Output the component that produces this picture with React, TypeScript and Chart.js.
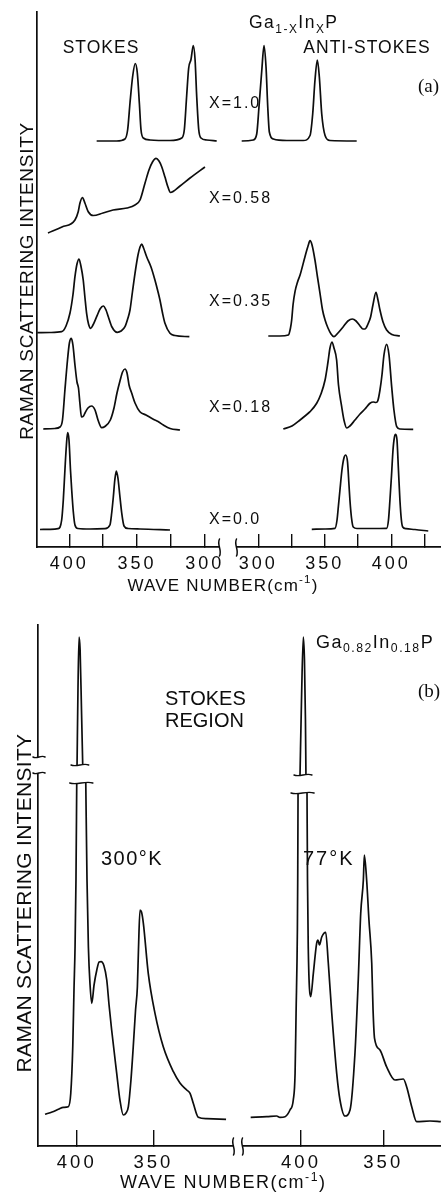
import React, { useEffect, useRef } from "react";
import { Chart, registerables } from "chart.js";

Chart.register(...registerables);

const INK = "#0d0d0d";
const SANS = '"Liberation Sans", Arial, sans-serif';
const SERIF = '"Liberation Serif", "DejaVu Serif", serif';

// ================= Panel (a): Ga(1-x)In(x)P, Stokes (left) / anti-Stokes (right) =================
const A_LABELS = ["X=1.0", "X=0.58", "X=0.35", "X=0.18", "X=0.0"];
const A_OFFSETS = [406, 314, 214, 118, 17.5];

const A_X10_STOKES_WN = [379.8, 365.0, 358.9, 356.9, 355.2, 353.2, 351.3, 349.8, 348.3, 347.1, 345.4, 340.4, 325.7, 317.0, 315.1, 313.4, 311.9, 310.2, 308.5, 307.2, 306.0, 304.5, 302.8, 298.6, 291.2];
const A_X10_STOKES_I = [0, 0, 2, 11.5, 38, 65, 77.5, 68, 38, 11.5, 3, 1, 0.5, 3, 11.5, 45, 73, 81.5, 95.5, 81.5, 45, 11.5, 3, 1, 0];
const A_X10_ANTI_WN = [287.5, 296.2, 298.8, 300.5, 302.6, 304.3, 305.8, 307.1, 308.3, 311.3, 321.4, 333.8, 338.9, 340.9, 342.6, 344.4, 345.9, 347.7, 350.2, 353.9, 374.0];
const A_X10_ANTI_I = [0, 1, 7, 34, 70.5, 95.5, 74, 34, 9, 2, 0.5, 0.5, 5.5, 27, 60.5, 81, 64, 27, 5.5, 0.5, 0];

const A_X058_STOKES_WN = [415.7, 405.4, 395.8, 393.4, 392.1, 390.3, 388.4, 386.0, 382.3, 375.1, 367.7, 357.4, 351.5, 347.8, 344.1, 341.2, 338.6, 336.0, 333.8, 331.8, 329.4, 327.2, 325.3, 318.3, 310.9, 299.9];
const A_X058_STOKES_I = [0, 6, 13, 21.3, 30, 35.5, 29.7, 21.3, 17.5, 20, 23, 25, 28, 33, 50, 63, 71, 74.7, 72, 66.3, 56, 46, 40.5, 47, 55, 66];

const A_X035_STOKES_WN = [423.6, 414.2, 405.6, 402.4, 399.5, 397.3, 395.8, 394.3, 392.8, 391.4, 389.7, 388.4, 387.2, 385.8, 384.2, 382.5, 379.8, 377.3, 374.9, 372.9, 371.2, 368.5, 364.6, 361.8, 358.9, 356.7, 355.2, 353.4, 351.5, 349.3, 347.8, 346.6, 345.2, 342.9, 339.7, 336.8, 334.5, 333.1, 331.2, 329.4, 325.7, 322.0, 311.4];
const A_X035_STOKES_I = [0.3, 0.5, 1.3, 7, 19.7, 38, 56.3, 69, 74, 67, 53, 35, 19.7, 9, 4.7, 8, 16.3, 24, 27, 23, 16.3, 6, 0.7, 2, 6.3, 15, 23, 41, 59.7, 78, 86, 89, 85, 76.3, 66, 53, 41, 33, 20, 9.7, -0.3, -2.5, -3.7];
const A_X035_ANTI_WN = [307.5, 316.3, 322.6, 324.2, 325.1, 326.1, 327.6, 329.5, 331.4, 335.1, 337.4, 338.9, 340.4, 342.6, 344.5, 346.4, 348.3, 350.2, 352.4, 354.7, 356.9, 359.9, 363.9, 367.4, 370.7, 373.5, 376.5, 378.7, 380.2, 382.5, 384.5, 386.2, 388.5, 390.0, 391.5, 393.8, 396.5, 400.5, 406.5];
const A_X035_ANTI_I = [-3, -3, -2, 5, 13, 28, 41.3, 51, 58, 76.3, 87, 92.3, 88, 73, 56, 39.7, 23, 13, 5, -1, -3.7, 0, 6.3, 12, 14, 12, 7, 4, 4, 9, 16.3, 28, 40.7, 33, 23, 11, 3, -1.5, -3];

const A_X018_STOKES_WN = [419.2, 410.6, 406.9, 405.0, 403.2, 401.3, 399.9, 398.5, 397.3, 395.8, 394.3, 393.2, 392.1, 391.0, 389.5, 388.4, 386.2, 383.5, 381.0, 378.8, 376.1, 373.7, 369.7, 367.0, 364.8, 362.6, 360.7, 358.9, 357.4, 355.9, 353.9, 351.5, 347.9, 343.4, 338.0, 334.5, 330.6, 325.6, 318.3];
const A_X018_STOKES_I = [0, 0.5, 2, 9, 39, 69, 86, 90.7, 84, 64, 47, 41, 25, 12, 13, 16, 21, 23, 19, 9, 1.3, 2.5, 9, 21, 36, 48, 57, 60, 56, 44, 35.7, 26, 17.3, 14, 9.7, 7.5, 4, 0.5, -1];
const A_X018_ANTI_WN = [318.8, 325.3, 331.4, 335.1, 338.9, 343.9, 347.1, 350.2, 352.4, 353.9, 355.4, 356.9, 358.9, 360.3, 362.7, 364.4, 366.5, 368.9, 372.7, 376.5, 380.2, 384.0, 386.5, 388.5, 389.8, 391.5, 393.0, 394.5, 396.5, 398.3, 400.3, 402.0, 404.1, 406.5, 416.5];
const A_X018_ANTI_I = [0, 3, 9, 13, 17.3, 25.7, 35, 49, 67, 81, 87, 81, 69, 44, 22.3, 9, 1, 3, 9, 15, 20, 25.7, 27, 26.5, 28, 39, 54, 74, 84.7, 74, 42.3, 19, 2.3, 0, -0.3];

const A_X00_STOKES_WN = [421.6, 414.2, 408.3, 405.6, 404.4, 403.2, 402.1, 401.2, 400.2, 399.1, 398.2, 397.0, 395.8, 393.6, 384.7, 373.7, 370.0, 368.7, 367.5, 366.4, 365.3, 364.1, 362.6, 361.3, 359.6, 356.7, 347.8, 325.7];
const A_X00_STOKES_I = [0, 0.2, 0.8, 9.5, 29.5, 59.5, 84.5, 96.8, 89.5, 59.5, 39.5, 17.5, 4.5, 1, 0.5, 0.8, 4.5, 16.5, 32.5, 49.5, 58.5, 51.5, 32.5, 16.5, 3.5, 1, 0.5, -0.5];
const A_X00_ANTI_WN = [340.2, 350.2, 357.7, 359.2, 360.2, 361.4, 362.9, 364.4, 365.7, 367.1, 368.2, 368.9, 370.1, 371.4, 374.2, 384.0, 396.5, 397.9, 399.0, 400.2, 401.3, 402.4, 403.3, 404.3, 405.4, 406.5, 407.6, 408.6, 411.1, 417.8, 427.8];
const A_X00_ANTI_I = [0.2, 0.5, 1.2, 9.5, 22.8, 39.5, 59.5, 71.5, 74.5, 67.5, 44.5, 29.5, 11.5, 2.5, 1, 1, 1.2, 9.5, 29.5, 54.5, 79.5, 92.5, 95.2, 89.5, 59.5, 29.5, 9.5, 2.5, 0.8, 0, -1.5];

const A_TICKS_STOKES = [400, 375, 350, 325, 300];
const A_TICKS_ANTI = [300, 325, 350, 375, 400, 425];
const A_RANGE_STOKES = [282.9, 423.8];
const A_RANGE_ANTI = [277.2, 437.4];
const A_Y_MAX = 535;

// ================= Panel (b): Ga0.82In0.18P, Stokes region, 300 K (left) / 77 K (right) =================
// null marks the broken (off-scale) part of the strongest peak
const B_300K_WN = [420.7, 416.1, 412.0, 408.7, 405.5, 403.9, 402.6, 401.8, 401.1, 400.5, 400.0, null, 399.8, 399.2, 398.5, 397.8, 396.9, 396.1, null, 394.1, 393.3, 392.4, 391.3, 390.2, 388.7, 386.9, 385.4, 384.1, 382.2, 380.4, 378.9, 377.2, 373.9, 371.8, 369.6, 367.8, 366.3, 364.6, 363.1, 361.6, 360.4, 359.7, 358.7, 357.7, 356.5, 353.3, 348.9, 343.5, 336.9, 332.6, 328.2, 326.0, 323.9, 320.6, 315.1, 302.5];
const B_300K_I = [31.7, 34, 36.7, 38.7, 39.3, 52.7, 99.3, 156, 199.3, 266, 363, null, 381, 456, 509, 496, 436, 381, null, 363, 266, 199.3, 161, 142.7, 161, 176, 184, 184.3, 180, 166, 141, 116, 72.7, 46, 31, 33, 39.3, 66, 99.3, 136, 159.3, 196, 236, 234, 222.7, 172.7, 132.7, 99.3, 74.3, 63, 56, 52.7, 42.7, 28.7, 27.3, 26.7];
const B_77K_WN = [430.6, 420.8, 414.8, 412.8, 409.7, 406.7, 404.7, 403.6, 403.0, 402.2, 402.0, 401.8, null, 400.6, 399.7, 398.6, 397.9, 397.3, 397.0, null, 396.35, 396.05, 395.6, 394.1, 392.5, 390.5, 389.7, 388.8, 387.4, 385.0, 383.4, 381.3, 378.3, 376.3, 373.3, 370.2, 367.2, 365.2, 363.7, 362.1, 361.5, 360.1, 358.7, 357.0, 356.2, 355.3, 352.0, 348.0, 342.9, 337.8, 335.8, 332.7, 329.7, 321.6, 315.0];
const B_77K_I = [28.7, 29.3, 30, 28.7, 29.3, 36, 46, 72.7, 132.7, 216, 266, 353, null, 371, 446, 509, 486, 426, 371, null, 353, 266, 199.3, 149.3, 172.7, 202.7, 206, 201, 209, 213.7, 182.7, 132.7, 72.7, 46, 30, 36, 92.7, 166, 232.7, 266, 291, 266, 226, 182.7, 136, 107.7, 96, 79.3, 66, 67, 59.3, 39.3, 24.3, 25, 24.3];

const B_TICKS = [400, 350];
const B_RANGE_300K = [294.7, 425.3];
const B_RANGE_77K = [314.9, 438.3];
const B_Y_MAX = 521;
const B_Y_BREAK = [373, 389];

// ================= helpers =================
type Seg = { t: string; mode?: "sub" | "sup" };
type Note = {
  segs: Seg[];
  x: number;
  y: number;
  size: number;
  align?: "left" | "center";
  spacing?: number;
  family?: string;
  rotate?: boolean;
};

function series(wn: (number | null)[], inten: (number | null)[], offset: number, axis: string) {
  const data = wn.map((w, i) => ({
    x: w === null ? (wn[i - 1] as number) : w,
    y: inten[i] === null ? null : (inten[i] as number) + offset,
  }));
  return {
    data,
    xAxisID: axis,
    yAxisID: "y",
    borderColor: INK,
    borderWidth: 1.7,
    pointRadius: 0,
    fill: false,
    spanGaps: false,
    cubicInterpolationMode: "monotone",
  };
}

function xScale(range: number[], reverse: boolean, ticks: number[], weight: number, tickLen: number, pad: number, size: number, height: number) {
  return {
    type: "linear",
    axis: "x",
    position: "bottom",
    stack: "wavenumber",
    stackWeight: weight,
    min: range[0],
    max: range[1],
    reverse,
    afterBuildTicks: (s: any) => {
      s.ticks = ticks.map((v) => ({ value: v }));
    },
    afterFit: (s: any) => {
      s.height = height;
      s.paddingLeft = 0;
      s.paddingRight = 0;
      s.paddingTop = 0;
      s.paddingBottom = 0;
    },
    border: { display: true, color: INK, width: 1.7 },
    grid: { display: true, drawOnChartArea: false, drawTicks: true, tickLength: tickLen, color: INK, lineWidth: 1.4 },
    ticks: {
      autoSkip: false,
      maxRotation: 0,
      minRotation: 0,
      padding: pad,
      color: INK,
      font: { family: SANS, size },
      callback: (v: number) => (v % 50 === 0 ? String(v) : ""),
    },
  };
}

function yScale(max: number, width: number) {
  return {
    type: "linear",
    position: "left",
    min: 0,
    max,
    afterFit: (s: any) => {
      s.width = width;
      s.paddingTop = 0;
      s.paddingBottom = 0;
      s.paddingLeft = 0;
      s.paddingRight = 0;
    },
    border: { display: true, color: INK, width: 1.7 },
    grid: { display: false },
    ticks: { display: false },
    title: { display: false },
  };
}

function drawNote(ctx: CanvasRenderingContext2D, n: Note) {
  ctx.save();
  ctx.fillStyle = INK;
  ctx.textBaseline = "alphabetic";
  ctx.textAlign = "left";
  (ctx as any).letterSpacing = `${n.spacing ?? 0}px`;
  const fam = n.family ?? SANS;
  const parts = n.segs.map((s) => {
    const size = s.mode ? n.size * 0.68 : n.size;
    ctx.font = `${size}px ${fam}`;
    return { s, size, w: ctx.measureText(s.t).width };
  });
  const total = parts.reduce((a, p) => a + p.w, 0);
  ctx.translate(n.x, n.y);
  if (n.rotate) ctx.rotate(-Math.PI / 2);
  let x = n.align === "center" || n.rotate ? -total / 2 : 0;
  const base = n.size * 0.358;
  for (const p of parts) {
    ctx.font = `${p.size}px ${fam}`;
    const dy = p.s.mode === "sub" ? n.size * 0.25 : p.s.mode === "sup" ? -n.size * 0.42 : 0;
    ctx.fillText(p.s.t, x, base + dy);
    x += p.w;
  }
  ctx.restore();
}

function wave(ctx: CanvasRenderingContext2D, x0: number, y0: number, x1: number, y1: number, amp: number) {
  const dx = x1 - x0;
  const dy = y1 - y0;
  const len = Math.hypot(dx, dy) || 1;
  const nx = (-dy / len) * amp;
  const ny = (dx / len) * amp;
  ctx.beginPath();
  ctx.moveTo(x0, y0);
  ctx.bezierCurveTo(x0 + dx / 3 + nx, y0 + dy / 3 + ny, x0 + (2 * dx) / 3 - nx, y0 + (2 * dy) / 3 - ny, x1, y1);
  ctx.stroke();
}

type FigSpec = {
  notes: Note[];
  leftAxis: string;
  gapHalf: number;
  tickSpacing: number;
  yBreak?: number[];
  peakBreaks?: boolean;
};

function figurePlugin(spec: FigSpec) {
  return {
    id: "figureNotes",
    beforeDraw(chart: any) {
      chart.ctx.letterSpacing = `${spec.tickSpacing}px`;
    },
    beforeDatasetsDraw(chart: any) {
      chart.ctx.letterSpacing = "0px";
    },
    afterDraw(chart: any) {
      const ctx: CanvasRenderingContext2D = chart.ctx;
      ctx.save();
      ctx.strokeStyle = INK;
      ctx.lineWidth = 1.5;
      ctx.lineCap = "round";
      // break of the wave-number axis between the two stacked scales
      const ls = chart.scales[spec.leftAxis];
      const c = ls.right;
      const ay = ls.top;
      const h = spec.gapHalf;
      ctx.fillStyle = "#ffffff";
      ctx.fillRect(c - h, ay - 3, 2 * h, 6);
      wave(ctx, c - h, ay - 8, c - h, ay + 9, 3);
      wave(ctx, c + h, ay - 8, c + h, ay + 9, 3);
      // break of the intensity axis
      if (spec.yBreak) {
        const ys = chart.scales.y;
        const x = ys.right;
        const yTop = ys.getPixelForValue(spec.yBreak[1]);
        const yBot = ys.getPixelForValue(spec.yBreak[0]);
        ctx.fillStyle = "#ffffff";
        ctx.fillRect(x - 3, yTop, 6, yBot - yTop);
        wave(ctx, x - 5, yTop, x + 7, yTop, 2.5);
        wave(ctx, x - 5, yBot, x + 7, yBot, 2.5);
      }
      // breaks drawn across the off-scale peaks
      if (spec.peakBreaks) {
        chart.data.datasets.forEach((ds: any, di: number) => {
          const pts = chart.getDatasetMeta(di).data;
          const gaps = ds.data.map((p: any, i: number) => (p.y === null ? i : -1)).filter((i: number) => i >= 0);
          if (gaps.length === 2) {
            const [g1, g2] = gaps;
            const mark = (a: any, b: any, m: number) => {
              const y = (a.y + b.y) / 2;
              wave(ctx, a.x - m, y, b.x + m, y, 2.5);
            };
            mark(pts[g1 + 1], pts[g2 - 1], 6);
            mark(pts[g1 - 1], pts[g2 + 1], 7);
          }
        });
      }
      spec.notes.forEach((n) => drawNote(ctx, n));
      ctx.restore();
    },
  };
}

const baseOptions = {
  animation: false,
  responsive: false,
  events: [],
  plugins: { legend: { display: false }, tooltip: { enabled: false }, title: { display: false } },
};

function configA() {
  const datasets = [
    series(A_X10_STOKES_WN, A_X10_STOKES_I, A_OFFSETS[0], "xS"),
    series(A_X10_ANTI_WN, A_X10_ANTI_I, A_OFFSETS[0], "xA"),
    series(A_X058_STOKES_WN, A_X058_STOKES_I, A_OFFSETS[1], "xS"),
    series(A_X035_STOKES_WN, A_X035_STOKES_I, A_OFFSETS[2], "xS"),
    series(A_X035_ANTI_WN, A_X035_ANTI_I, A_OFFSETS[2], "xA"),
    series(A_X018_STOKES_WN, A_X018_STOKES_I, A_OFFSETS[3], "xS"),
    series(A_X018_ANTI_WN, A_X018_ANTI_I, A_OFFSETS[3], "xA"),
    series(A_X00_STOKES_WN, A_X00_STOKES_I, A_OFFSETS[4], "xS"),
    series(A_X00_ANTI_WN, A_X00_ANTI_I, A_OFFSETS[4], "xA"),
  ];
  const labelY = [102.5, 197.5, 300.5, 406.5, 518.5];
  const notes: Note[] = [
    { segs: [{ t: "STOKES" }], x: 101, y: 46.5, size: 17.5, align: "center", spacing: 1 },
    { segs: [{ t: "ANTI-STOKES" }], x: 367, y: 46.5, size: 17.5, align: "center", spacing: 1 },
    { segs: [{ t: "Ga" }, { t: "1-X", mode: "sub" }, { t: "In" }, { t: "X", mode: "sub" }, { t: "P" }], x: 249, y: 22, size: 17.5, spacing: 1.5 },
    { segs: [{ t: "(a)" }], x: 418, y: 85, size: 19, family: SERIF },
    ...A_LABELS.map((t, i) => ({ segs: [{ t }], x: 209, y: labelY[i], size: 16, spacing: 2 } as Note)),
    { segs: [{ t: "WAVE NUMBER(cm" }, { t: "-1", mode: "sup" }, { t: ")" }], x: 223, y: 584.5, size: 17, align: "center", spacing: 1.2 },
    { segs: [{ t: "RAMAN SCATTERING INTENSITY" }], x: 26.5, y: 281, size: 19, rotate: true, spacing: 0.7 },
  ];
  return {
    type: "line",
    data: { datasets },
    options: {
      ...baseOptions,
      layout: { padding: { top: 12, left: 0, right: 0, bottom: 0 } },
      scales: {
        xS: xScale(A_RANGE_STOKES, true, A_TICKS_STOKES, 191, -13, 19, 18, 53),
        xA: xScale(A_RANGE_ANTI, false, A_TICKS_ANTI, 213, -13, 19, 18, 53),
        y: yScale(A_Y_MAX, 37),
      },
    },
    plugins: [figurePlugin({ notes, leftAxis: "xS", gapHalf: 8.5, tickSpacing: 3 })],
  };
}

function configB() {
  const datasets = [series(B_300K_WN, B_300K_I, 0, "x300"), series(B_77K_WN, B_77K_I, 0, "x77")];
  const notes: Note[] = [
    { segs: [{ t: "Ga" }, { t: "0.82", mode: "sub" }, { t: "In" }, { t: "0.18", mode: "sub" }, { t: "P" }], x: 316, y: 41.5, size: 18, spacing: 1.5 },
    { segs: [{ t: "(b)" }], x: 418, y: 90.5, size: 19, family: SERIF },
    { segs: [{ t: "STOKES" }], x: 165, y: 97.5, size: 20 },
    { segs: [{ t: "REGION" }], x: 165, y: 119.5, size: 20 },
    { segs: [{ t: "300°K" }], x: 101, y: 257.5, size: 20, spacing: 1.5 },
    { segs: [{ t: "77°K" }], x: 303, y: 257.5, size: 20, spacing: 2 },
    { segs: [{ t: "WAVE NUMBER(cm" }, { t: "-1", mode: "sup" }, { t: ")" }], x: 223.3, y: 581.7, size: 18, align: "center", spacing: 1.5 },
    { segs: [{ t: "RAMAN SCATTERING INTENSITY" }], x: 23, y: 303, size: 21, rotate: true, spacing: 0.3 },
  ];
  return {
    type: "line",
    data: { datasets },
    options: {
      ...baseOptions,
      layout: { padding: { top: 25, left: 0, right: 0, bottom: 0 } },
      scales: {
        x300: xScale(B_RANGE_300K, true, B_TICKS, 200, -16, 22, 18.5, 46),
        x77: xScale(B_RANGE_77K, true, B_TICKS, 203, -16, 22, 18.5, 46),
        y: yScale(B_Y_MAX, 38),
      },
    },
    plugins: [figurePlugin({ notes, leftAxis: "x300", gapHalf: 4.5, tickSpacing: 3, yBreak: B_Y_BREAK, peakBreaks: true })],
  };
}

export default function App() {
  const refA = useRef<HTMLCanvasElement | null>(null);
  const refB = useRef<HTMLCanvasElement | null>(null);

  useEffect(() => {
    const a = new Chart(refA.current as HTMLCanvasElement, configA() as any);
    const b = new Chart(refB.current as HTMLCanvasElement, configB() as any);
    return () => {
      a.destroy();
      b.destroy();
    };
  }, []);

  return (
    <div style={{ position: "absolute", left: 0, top: 0, width: 441, height: 1192, background: "#ffffff", overflow: "hidden" }}>
      <canvas ref={refA} width={441} height={600} style={{ position: "absolute", left: 0, top: 0, width: 441, height: 600 }} />
      <canvas ref={refB} width={441} height={592} style={{ position: "absolute", left: 0, top: 600, width: 441, height: 592 }} />
    </div>
  );
}
